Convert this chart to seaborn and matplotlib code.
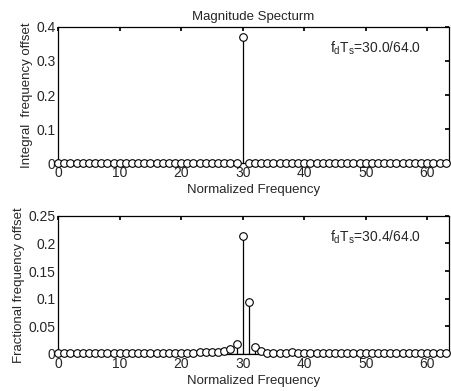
import numpy as np
import pandas as pd
import matplotlib
matplotlib.use('Agg')
import matplotlib.pyplot as plt
import seaborn as sns

# bin index 0..63
bins = list(range(64))

# integral offset: single line at bin 30
integral_mag = [0.0] * 64
integral_mag[30] = 0.37

# fractional offset: leakage around 30.4
fractional_mag = [0.002, 0.002, 0.002, 0.002, 0.002, 0.002, 0.002, 0.002, 0.002, 0.002,
                  0.002, 0.002, 0.002, 0.002, 0.002, 0.002, 0.002, 0.002, 0.002, 0.002,
                  0.002, 0.002, 0.002, 0.003, 0.003, 0.003, 0.004, 0.005, 0.008, 0.018,
                  0.213, 0.094, 0.012, 0.005, 0.002, 0.002, 0.001, 0.001, 0.003, 0.001,
                  0.001, 0.001, 0.001, 0.001, 0.001, 0.001, 0.002, 0.002, 0.002, 0.002,
                  0.002, 0.002, 0.002, 0.002, 0.002, 0.002, 0.002, 0.002, 0.002, 0.002,
                  0.002, 0.002, 0.002, 0.002]

sns.set_theme(style='white')
plt.rcParams['font.family'] = ['Liberation Sans Narrow', 'Liberation Sans', 'DejaVu Sans']
plt.rcParams['mathtext.fontset'] = 'custom'
plt.rcParams['mathtext.rm'] = 'Liberation Sans'
plt.rcParams['mathtext.it'] = 'Liberation Sans'

fig = plt.figure(figsize=(4.51, 3.91), dpi=100)
ax1 = fig.add_axes([0.129, 0.583, 0.866, 0.348])
ax2 = fig.add_axes([0.129, 0.095, 0.866, 0.353])


def stem_panel(ax, vals, ylim, yticks, ylabel, note):
    df = pd.DataFrame({'k': bins, 'v': vals})
    ax.vlines(df['k'], 0, df['v'], color='black', linewidth=0.9)
    big = df[df['v'] > 0.05]
    ax.hlines(0, big['k'].min() - 2 if len(big) > 1 else big['k'].min(),
              big['k'].max() + 1 if len(big) > 1 else big['k'].min(),
              color='black', linewidth=0.9)
    sns.scatterplot(data=df, x='k', y='v', ax=ax, marker='o', s=30,
                    facecolor='white', edgecolor='black', linewidth=0.8,
                    zorder=3, legend=False, clip_on=False)
    ax.set_xlim(0, 63.5)
    ax.set_ylim(*ylim)
    ax.set_xticks([0, 10, 20, 30, 40, 50, 60])
    ax.set_yticks(yticks)
    ax.set_yticklabels([('%g' % t) for t in yticks])
    ax.tick_params(direction='in', length=3, top=True, right=True,
                   labelsize=10, pad=2, color='black')
    for sp in ax.spines.values():
        sp.set_color('black')
        sp.set_linewidth(0.9)
    ax.set_xlabel('Normalized Frequency', fontsize=9.5, labelpad=3)
    ax.set_ylabel(ylabel, fontsize=9.5, labelpad=2)
    ax.text(0.695, 0.81, note, transform=ax.transAxes, fontsize=10)


stem_panel(ax1, integral_mag, (0, 0.4), [0, 0.1, 0.2, 0.3, 0.4],
           'Integral  frequency offset', r'$\mathregular{f_dT_s}$=30.0/64.0')
stem_panel(ax2, fractional_mag, (0, 0.25), [0, 0.05, 0.1, 0.15, 0.2, 0.25],
           'Fractional frequency offset', r'$\mathregular{f_dT_s}$=30.4/64.0')
ax1.set_title('Magnitude Specturm', fontsize=9.5, pad=5)

fig.savefig('out.png', dpi=100)
